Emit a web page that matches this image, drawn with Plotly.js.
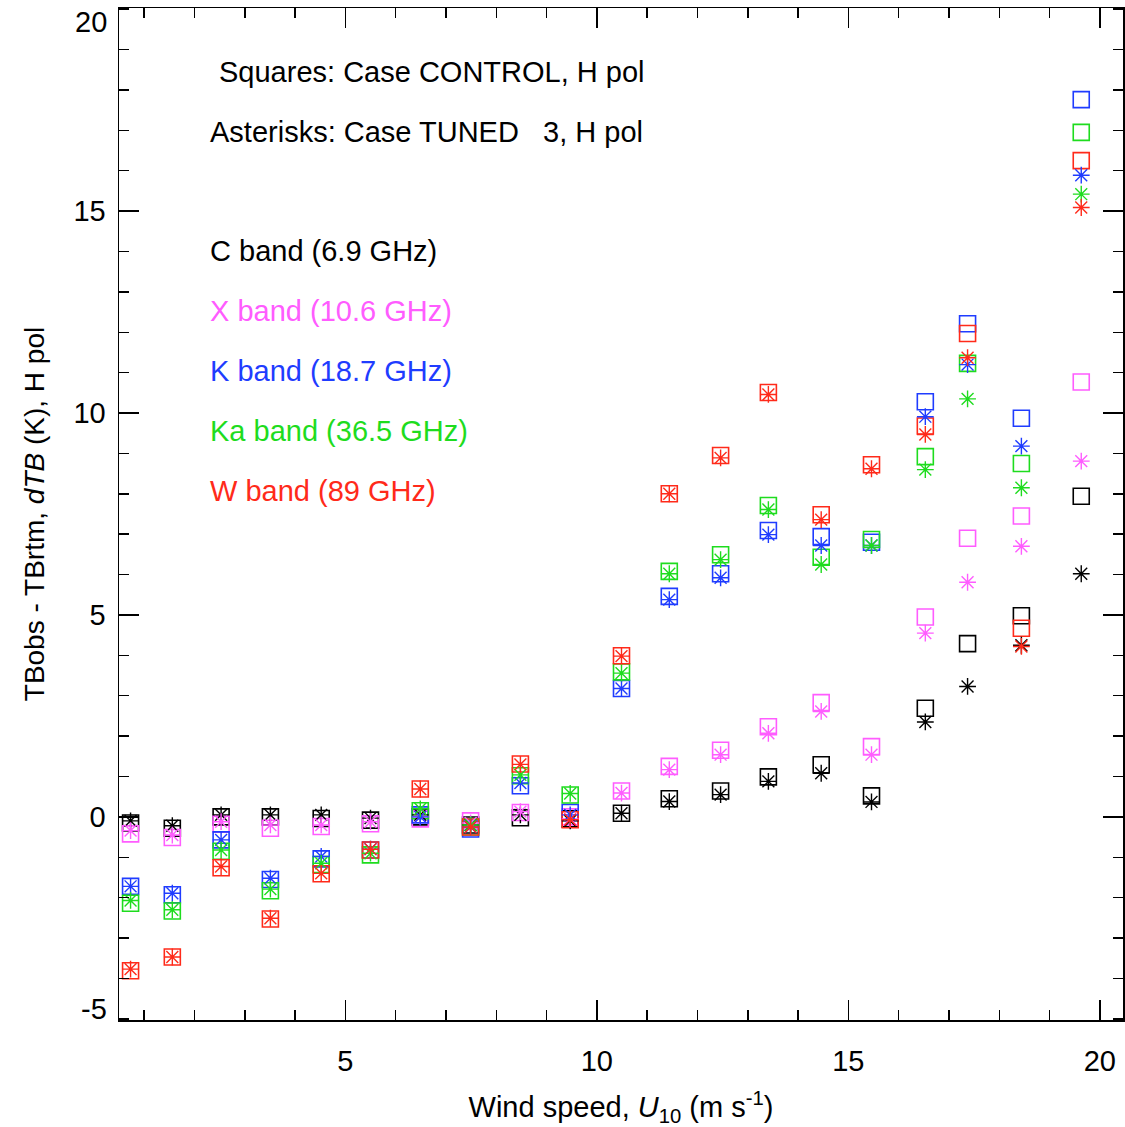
<!DOCTYPE html>
<html>
<head>
<meta charset="utf-8">
<script src="https://cdn.plot.ly/plotly-3.0.1.min.js"></script>
<style>
  html, body { margin: 0; padding: 0; background: #ffffff; }
  #chart { width: 1125px; height: 1127px; }
</style>
</head>
<body>
<div id="chart"></div>
<script>
// Mean 10-m wind speed of each bin (m/s)
const windSpeed = [0.73, 1.56, 2.53, 3.51, 4.52, 5.50, 6.49, 7.49, 8.48, 9.47,
                   10.49, 11.44, 12.46, 13.41, 14.46, 15.46, 16.53, 17.37, 18.44, 19.63];

// dTB (K), CONTROL case, H pol
const cControl  = [-0.15, -0.28, 0.00, 0.00, -0.04, -0.08, 0.00, -0.20, -0.02, -0.05, 0.09, 0.45, 0.64, 0.99, 1.29, 0.52, 2.69, 4.29, 4.98, 7.94];
const xControl  = [-0.42, -0.51, -0.18, -0.28, -0.24, -0.17, -0.05, -0.10, 0.11, 0.00, 0.64, 1.25, 1.65, 2.23, 2.83, 1.74, 4.95, 6.90, 7.45, 10.77];
const kControl  = [-1.72, -1.93, -0.57, -1.55, -1.04, -0.82, 0.05, -0.30, 0.77, 0.11, 3.18, 5.46, 6.02, 7.09, 6.94, 6.80, 10.28, 12.21, 9.87, 17.76];
const kaControl = [-2.14, -2.33, -0.85, -1.83, -1.18, -0.94, 0.15, -0.25, 1.02, 0.54, 3.59, 6.08, 6.49, 7.71, 6.43, 6.87, 8.92, 11.23, 8.75, 16.95];
const wControl  = [-3.81, -3.47, -1.26, -2.53, -1.41, -0.82, 0.69, -0.25, 1.31, -0.07, 3.99, 8.00, 8.95, 10.51, 7.48, 8.72, 9.68, 11.97, 4.67, 16.25];

// dTB (K), TUNED 3 case, H pol
const cTuned  = [-0.10, -0.22, 0.05, 0.05, 0.05, -0.03, 0.05, -0.20, 0.05, -0.10, 0.09, 0.38, 0.55, 0.88, 1.08, 0.37, 2.35, 3.23, 4.25, 6.02];
const xTuned  = [-0.34, -0.45, -0.12, -0.20, -0.20, -0.12, 0.00, -0.15, 0.13, -0.05, 0.59, 1.17, 1.54, 2.07, 2.61, 1.54, 4.55, 5.81, 6.70, 8.81];
const kTuned  = [-1.72, -1.89, -0.57, -1.52, -0.98, -0.80, 0.00, -0.25, 0.84, 0.05, 3.18, 5.38, 5.92, 6.99, 6.72, 6.72, 9.91, 11.20, 9.18, 15.89];
const kaTuned = [-2.07, -2.30, -0.82, -1.79, -1.15, -0.90, 0.20, -0.20, 1.04, 0.58, 3.56, 6.02, 6.37, 7.61, 6.25, 6.72, 8.60, 10.35, 8.15, 15.42];
const wTuned  = [-3.77, -3.47, -1.23, -2.51, -1.40, -0.80, 0.69, -0.25, 1.30, -0.07, 3.98, 8.00, 8.89, 10.46, 7.36, 8.62, 9.47, 11.37, 4.22, 15.09];

// Band names shown in the key
const bandLabels = ["C band (6.9 GHz)", "X band (10.6 GHz)", "K band (18.7 GHz)",
                    "Ka band (36.5 GHz)", "W band (89 GHz)"];

// Axis tick labels (the end labels 20 and -5 are placed separately below)
const yTickVals = [0, 5, 10, 15];
const yEndLabels = [20, -5];
const xTickVals = [5, 10, 15, 20];

const colors = ["#000000", "#ff5cff", "#1f3cff", "#1edc1e", "#ff2a1a"];
const controlSets = [cControl, xControl, kControl, kaControl, wControl];
const tunedSets = [cTuned, xTuned, kTuned, kaTuned, wTuned];

const FONT = "Liberation Sans, Arial, Helvetica, sans-serif";

const traces = [];
controlSets.forEach((vals, i) => {
  traces.push({
    x: windSpeed, y: vals, type: "scatter", mode: "markers",
    name: bandLabels[i] + " CONTROL",
    marker: { symbol: "square-open", size: 16, color: colors[i],
              line: { color: colors[i], width: 1.6 } },
    hoverinfo: "x+y"
  });
});
tunedSets.forEach((vals, i) => {
  traces.push({
    x: windSpeed, y: vals, type: "scatter", mode: "markers",
    name: bandLabels[i] + " TUNED 3",
    marker: { symbol: "asterisk-open", size: 14, color: colors[i],
              line: { color: colors[i], width: 1.4 } },
    hoverinfo: "x+y"
  });
});

// Text key in the upper-left of the plot
const keyLines = [
  { text: "Squares: Case CONTROL, H pol", px: 217, py: 72, color: "#000000" },
  { text: "Asterisks: Case TUNED   3, H pol", px: 208, py: 132, color: "#000000" }
];
bandLabels.forEach((t, i) => keyLines.push({ text: t, px: 208, py: 251 + 60 * i, color: colors[i] }));

const L = 119, R = 1123, T = 8, B = 1020;
const annotations = keyLines.map(k => ({
  xref: "paper", yref: "paper",
  x: (k.px - L) / (R - L), y: (B - k.py) / (B - T),
  xanchor: "left", yanchor: "middle",
  text: k.text.replace(/ {2,}/g, m => "&nbsp;".repeat(m.length)),
  showarrow: false,
  font: { family: FONT, size: 29, color: k.color }
}));

// End labels of the y axis sit just inside the frame
yEndLabels.forEach(v => {
  annotations.push({
    xref: "paper", yref: "y", x: 0, y: v, xanchor: "right", yanchor: "middle",
    xshift: -10, yshift: v > 0 ? -13 : 10, text: String(v), showarrow: false,
    font: { family: FONT, size: 29, color: "#000000" }
  });
});

const axisCommon = {
  showline: true, linecolor: "#000000", linewidth: 1.5,
  mirror: "ticks", ticks: "inside", ticklen: 20, tickwidth: 1.5, tickcolor: "#000000",
  showgrid: false, zeroline: false,
  tickfont: { family: FONT, size: 29, color: "#000000" }
};

const layout = {
  width: 1125, height: 1127,
  margin: { l: L, r: 1125 - R, t: T, b: 1127 - B },
  paper_bgcolor: "#ffffff", plot_bgcolor: "#ffffff",
  showlegend: false,
  xaxis: Object.assign({}, axisCommon, {
    range: [0.5, 20.46],
    tickmode: "array", tickvals: xTickVals,
    ticklabelstandoff: 15,
    minor: { tickmode: "linear", tick0: 0, dtick: 1, ticklen: 10, tickwidth: 1.5,
             tickcolor: "#000000", ticks: "inside", showgrid: false },
    title: { text: "Wind speed, <i>U</i><sub>10</sub> (m s<sup>-1</sup>)",
             font: { family: FONT, size: 29, color: "#000000" }, standoff: 21 }
  }),
  yaxis: Object.assign({}, axisCommon, {
    range: [-5.03, 20.03],
    tickmode: "array", tickvals: yTickVals,
    ticklabelstandoff: 6,
    minor: { tickmode: "linear", tick0: 0, dtick: 1, ticklen: 10, tickwidth: 1.5,
             tickcolor: "#000000", ticks: "inside", showgrid: false },
    title: { text: "TBobs - TBrtm, <i>dTB</i> (K), H pol",
             font: { family: FONT, size: 28, color: "#000000" }, standoff: 20 }
  }),
  annotations: annotations
};

Plotly.newPlot("chart", traces, layout, { displayModeBar: false, staticPlot: true });
</script>
</body>
</html>
